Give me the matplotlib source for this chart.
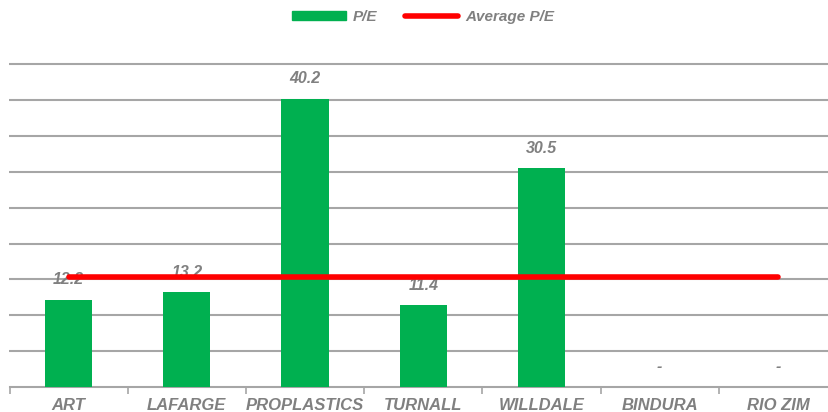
import matplotlib.pyplot as plt
import numpy as np
from matplotlib.lines import Line2D
from matplotlib.patches import Patch

plt.rcParams['font.family'] = ['Liberation Sans', 'DejaVu Sans']

companies = ['ART', 'LAFARGE', 'PROPLASTICS', 'TURNALL', 'WILLDALE', 'BINDURA', 'RIO ZIM']
pe = [12.2, 13.2, 40.2, 11.4, 30.5, 0, 0]
avg_pe = sum(pe) / len(pe)

green = '#00B050'
grey = '#808080'

fig = plt.figure(figsize=(8.29, 4.12), dpi=100)
# 0 at y=387px, 45 at y=64px; extra room above top gridline
ax = fig.add_axes([9.5 / 829, 25 / 412, 827.5 / 829, (322.7 * 46 / 45) / 412])

x = np.arange(len(companies))
ax.bar(x, pe, width=0.4, color=green, zorder=3)
ax.plot(x, [avg_pe] * len(x), color='#FF0000', lw=4, solid_capstyle='round', zorder=4)

for xi, v in zip(x, pe):
    txt = f'{v:.1f}' if v > 0 else '-'
    ax.annotate(txt, (xi, v), xytext=(0, 14.5), textcoords='offset points',
                ha='center', va='center', fontsize=11.5, fontweight='bold',
                fontstyle='italic', color=grey, zorder=2)

ax.set_xlim(-0.5, len(companies) - 0.5)
ax.set_ylim(0, 46)
ax.set_yticks(np.arange(5, 50, 5))
ax.yaxis.grid(True, color='#A6A6A6', lw=1.5, zorder=0)
ax.tick_params(axis='y', left=False, labelleft=False)

ax.set_xticks(x)
ax.set_xticklabels(companies, fontsize=12, fontweight='bold', fontstyle='italic', color=grey)
ax.set_xticks(np.arange(-0.5, len(companies), 1), minor=True)
ax.tick_params(axis='x', which='major', length=0, pad=8)
ax.tick_params(axis='x', which='minor', length=5, width=1.2, color='#A6A6A6')

for s in ['top', 'right', 'left']:
    ax.spines[s].set_visible(False)
ax.spines['bottom'].set_color('#A6A6A6')
ax.spines['bottom'].set_linewidth(1.5)

handles = [Patch(color=green, label='P/E'),
           Line2D([0], [0], color='#FF0000', lw=4, solid_capstyle='round', label='Average P/E')]
leg = fig.legend(handles=handles, loc='center', bbox_to_anchor=(423 / 829, 1 - 17 / 412),
                 ncol=2, frameon=False, handlelength=3.5, handleheight=0.6, handletextpad=0.45,
                 columnspacing=1.8, prop={'size': 11, 'weight': 'bold', 'style': 'italic'})
for t in leg.get_texts():
    t.set_color(grey)

fig.savefig('out.png', dpi=100)
